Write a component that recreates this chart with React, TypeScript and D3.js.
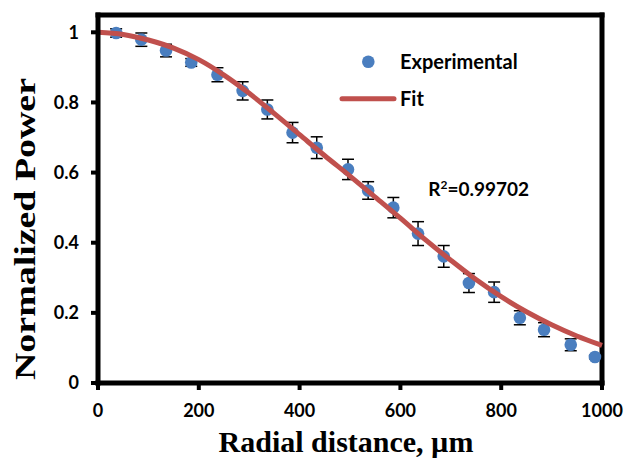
import React from "react";
import * as d3 from "d3";

const W = 637;
const H = 458;

// Experimental data
const radialX = [36, 86, 135, 185, 237, 287, 336, 386, 434, 496, 536, 586, 635, 686, 736, 786, 837, 885, 938, 986];
const powerY = [0.998, 0.979, 0.948, 0.914, 0.879, 0.833, 0.78, 0.714, 0.671, 0.609, 0.549, 0.5, 0.426, 0.361, 0.285, 0.259, 0.186, 0.152, 0.109, 0.074];
const powerErr = [0.012, 0.019, 0.018, 0.011, 0.02, 0.026, 0.027, 0.029, 0.031, 0.029, 0.025, 0.029, 0.034, 0.031, 0.027, 0.029, 0.02, 0.02, 0.017, 0.005];

// Fit curve
const fitX = [0, 50, 100, 150, 200, 250, 300, 350, 400, 450, 500, 550, 600, 650, 700, 750, 800, 850, 900, 950, 1000];
const fitY = [1.0, 0.994, 0.978, 0.955, 0.922, 0.878, 0.826, 0.768, 0.708, 0.648, 0.59, 0.53, 0.47, 0.408, 0.35, 0.295, 0.246, 0.203, 0.166, 0.134, 0.107];

const xTicks = [0, 200, 400, 600, 800, 1000];
const yTicks = [0, 0.2, 0.4, 0.6, 0.8, 1];
const yTickLabels = ["0", "0.2", "0.4", "0.6", "0.8", "1"];

const BLUE = "#4A7EBF";
const RED = "#C0504D";
const LABEL_FONT = "Lato, 'Open Sans', sans-serif";
const TITLE_FONT = "'Liberation Serif', 'Times New Roman', serif";

export default function App() {
  const left = 98;
  const right = 602;
  const bottom = 383;
  const top = 15;
  const x = d3.scaleLinear().domain([0, 1000]).range([left, right]);
  const y = d3.scaleLinear().domain([0, 1]).range([bottom, 32.3]);

  const fitLine = d3
    .line<number>()
    .x((_, i) => x(fitX[i]))
    .y((d) => y(d))
    .curve(d3.curveCatmullRom.alpha(0.5));

  const axisW = 5;

  return (
    <svg
      width={W}
      height={H}
      viewBox={`0 0 ${W} ${H}`}
      style={{ position: "absolute", left: 0, top: 0, background: "#fff" }}
    >
      <rect x={0} y={0} width={W} height={H} fill="#fff" />
      {/* frame top and right */}
      <line x1={left} x2={right} y1={top} y2={top} stroke="#000" strokeWidth={axisW} strokeLinecap="square" />
      <line x1={right} x2={right} y1={top} y2={bottom} stroke="#000" strokeWidth={axisW} strokeLinecap="square" />

      {/* error bars */}
      {radialX.map((rx, i) => {
        const cx = x(rx);
        const y1 = y(powerY[i] + powerErr[i]);
        const y2 = y(powerY[i] - powerErr[i]);
        return (
          <g key={"e" + i} stroke="#000" strokeWidth={1.5}>
            <line x1={cx} x2={cx} y1={y1} y2={y2} />
            <line x1={cx - 6} x2={cx + 6} y1={y1} y2={y1} />
            <line x1={cx - 6} x2={cx + 6} y1={y2} y2={y2} />
          </g>
        );
      })}

      {/* points */}
      {radialX.map((rx, i) => (
        <circle key={"p" + i} cx={x(rx)} cy={y(powerY[i])} r={6.3} fill={BLUE} />
      ))}

      {/* fit */}
      <path d={fitLine(fitY) || ""} fill="none" stroke={RED} strokeWidth={5} />

      {/* axes */}
      <line x1={left} x2={left} y1={top} y2={bottom} stroke="#000" strokeWidth={axisW} strokeLinecap="square" />
      <line x1={left} x2={right} y1={bottom} y2={bottom} stroke="#000" strokeWidth={axisW} strokeLinecap="square" />

      {yTicks.map((t, i) => (
        <g key={"yt" + i}>
          <line x1={left - 7} x2={left} y1={y(t)} y2={y(t)} stroke="#000" strokeWidth={4} />
          <text
            x={79}
            y={y(t)}
            dy="0.36em"
            textAnchor="end"
            fontFamily={LABEL_FONT}
            fontWeight="bold"
            fontSize={18}
            fill="#000"
          >
            {yTickLabels[i]}
          </text>
        </g>
      ))}
      {xTicks.map((t, i) => (
        <g key={"xt" + i}>
          <line x1={x(t)} x2={x(t)} y1={bottom} y2={bottom + 7} stroke="#000" strokeWidth={4} />
          <text
            x={x(t)}
            y={416.5}
            textAnchor="middle"
            fontFamily={LABEL_FONT}
            fontWeight="bold"
            fontSize={18}
            fill="#000"
          >
            {String(t)}
          </text>
        </g>
      ))}

      {/* axis titles */}
      <text
        x={346}
        y={452}
        textAnchor="middle"
        fontFamily={TITLE_FONT}
        fontWeight="bold"
        fontSize={30}
        fill="#000"
      >
        Radial distance, µm
      </text>
      <text
        transform={`translate(35,229) rotate(-90)`}
        x={0}
        y={0}
        textAnchor="middle"
        fontFamily={TITLE_FONT}
        fontWeight="bold"
        fontSize={30}
        textLength={302}
        lengthAdjust="spacingAndGlyphs"
        fill="#000"
      >
        Normalized Power
      </text>

      {/* legend */}
      <circle cx={368.3} cy={61.7} r={6.3} fill={BLUE} />
      <text x={400} y={68.5} fontFamily={LABEL_FONT} fontWeight="bold" fontSize={20} fill="#000">
        Experimental
      </text>
      <line x1={342} x2={394} y1={98.7} y2={98.7} stroke={RED} strokeWidth={5} strokeLinecap="round" />
      <text x={400} y={106} fontFamily={LABEL_FONT} fontWeight="bold" fontSize={20} fill="#000">
        Fit
      </text>

      {/* R squared */}
      <text x={428.3} y={196} fontFamily={LABEL_FONT} fontWeight="bold" fontSize={19} fill="#000">
        R<tspan fontSize={12} dy={-7}>2</tspan>
        <tspan dy={7}>=0.99702</tspan>
      </text>
    </svg>
  );
}
